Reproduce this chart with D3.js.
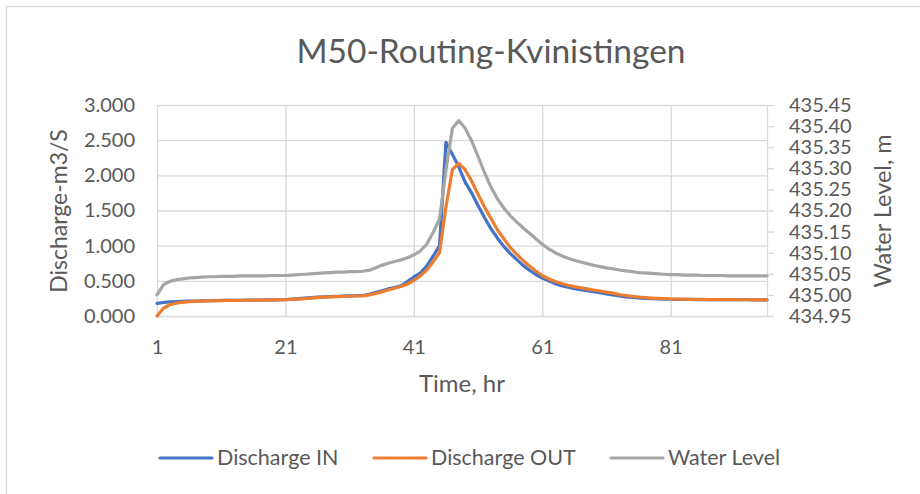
<!DOCTYPE html>
<head>
  <meta charset="utf-8">
  <script src="https://d3js.org/d3.v7.min.js"></script>
  <style>
    body { margin: 0; background: #fff; font-family: Lato, "Open Sans", sans-serif; }
    svg text { fill: #595959; }
    .grid line { stroke: #d9d9d9; stroke-width: 1.3px; }
    .grid .domain { display: none; }
    .axis2 line, .axis2 .domain { stroke: #d9d9d9; stroke-width: 1.3px; }
  </style>
</head>
<body>
  <div id="chart"></div>
  <script>
    // categories (hours)
    var hours = d3.range(1, 97);

    var dischargeIn = [
      0.180, 0.192, 0.200, 0.205, 0.208, 0.211, 0.213, 0.215, 0.217, 0.219,
      0.221, 0.222, 0.223, 0.224, 0.225, 0.226, 0.227, 0.228, 0.229, 0.231,
      0.234, 0.240, 0.247, 0.254, 0.261, 0.267, 0.272, 0.276, 0.279, 0.282,
      0.285, 0.288, 0.292, 0.310, 0.335, 0.360, 0.385, 0.405, 0.430, 0.490,
      0.555, 0.610, 0.710, 0.850, 1.000, 2.470, 2.300, 2.120, 1.900, 1.750,
      1.570, 1.400, 1.240, 1.110, 0.990, 0.890, 0.805, 0.720, 0.650, 0.590,
      0.540, 0.500, 0.460, 0.430, 0.410, 0.390, 0.375, 0.360, 0.345, 0.330,
      0.315, 0.300, 0.285, 0.273, 0.263, 0.256, 0.250, 0.246, 0.243, 0.240,
      0.238, 0.237, 0.236, 0.235, 0.234, 0.234, 0.233, 0.233, 0.232, 0.232,
      0.231, 0.231, 0.231, 0.230, 0.230, 0.230
    ];

    var dischargeOut = [
      0.000, 0.110, 0.160, 0.183, 0.195, 0.203, 0.208, 0.212, 0.215, 0.217,
      0.219, 0.221, 0.222, 0.223, 0.224, 0.225, 0.226, 0.227, 0.228, 0.229,
      0.231, 0.235, 0.241, 0.248, 0.255, 0.261, 0.267, 0.271, 0.275, 0.278,
      0.281, 0.284, 0.287, 0.298, 0.318, 0.343, 0.370, 0.395, 0.420, 0.455,
      0.505, 0.570, 0.650, 0.770, 0.900, 1.550, 2.080, 2.170, 2.080, 1.920,
      1.730, 1.550, 1.390, 1.230, 1.100, 0.975, 0.880, 0.790, 0.710, 0.640,
      0.575, 0.530, 0.490, 0.462, 0.438, 0.417, 0.400, 0.385, 0.370, 0.355,
      0.340, 0.325, 0.305, 0.292, 0.280, 0.270, 0.262, 0.255, 0.250, 0.246,
      0.242, 0.240, 0.238, 0.237, 0.236, 0.235, 0.234, 0.233, 0.233, 0.232,
      0.232, 0.231, 0.231, 0.230, 0.230, 0.230
    ];

    var waterLevel = [
      435.000, 435.024, 435.032, 435.036, 435.038, 435.040, 435.041, 435.042, 435.043, 435.043,
      435.044, 435.044, 435.044, 435.045, 435.045, 435.045, 435.045, 435.045, 435.046, 435.046,
      435.046, 435.047, 435.048, 435.049, 435.050, 435.051, 435.052, 435.053, 435.054, 435.054,
      435.055, 435.055, 435.056, 435.058, 435.064, 435.070, 435.075, 435.079, 435.083, 435.088,
      435.095, 435.104, 435.120, 435.148, 435.180, 435.295, 435.395, 435.413, 435.395, 435.365,
      435.328, 435.290, 435.256, 435.228, 435.206, 435.188, 435.173, 435.159, 435.146, 435.133,
      435.120, 435.109, 435.100, 435.093, 435.087, 435.082, 435.078, 435.074, 435.070, 435.067,
      435.064, 435.062, 435.059, 435.057, 435.055, 435.053, 435.052, 435.051, 435.050, 435.049,
      435.048, 435.048, 435.047, 435.047, 435.047, 435.046, 435.046, 435.046, 435.046, 435.045,
      435.045, 435.045, 435.045, 435.045, 435.045, 435.045
    ];

    var xTicks = [1, 21, 41, 61, 81];
    var yTicks = [0, 0.5, 1, 1.5, 2, 2.5, 3];
    var y2Ticks = [434.95, 435.00, 435.05, 435.10, 435.15, 435.20, 435.25, 435.30, 435.35, 435.40, 435.45];

    var seriesNames = ["Discharge IN", "Discharge OUT", "Water Level"];
    var colors = ["#4472c4", "#ed7d31", "#a5a5a5"];

    var width = 920, height = 494;
    var plot = { left: 157, right: 767, top: 105, bottom: 316 };

    var svg = d3.select("#chart").append("svg")
      .attr("width", width)
      .attr("height", height);

    // chart border
    svg.append("rect")
      .attr("x", 6.5).attr("y", 6.5)
      .attr("width", 940).attr("height", 520)
      .attr("fill", "#fff")
      .attr("stroke", "#d9d9d9")
      .attr("stroke-width", 1.3);

    var x = d3.scaleLinear().domain([1, 96]).range([plot.left, plot.right]);
    var y = d3.scaleLinear().domain([0, 3]).range([plot.bottom, plot.top]);
    var y2 = d3.scaleLinear().domain([434.95, 435.45]).range([plot.bottom, plot.top]);

    ////////// gridlines //////////
    svg.append("g")
      .attr("class", "grid")
      .attr("transform", "translate(" + plot.left + ",0)")
      .call(d3.axisLeft(y).tickValues(yTicks).tickSize(-(plot.right - plot.left)).tickFormat(""));

    svg.append("g")
      .attr("class", "grid")
      .attr("transform", "translate(0," + plot.bottom + ")")
      .call(d3.axisBottom(x).tickValues(xTicks).tickSize(-(plot.bottom - plot.top)).tickFormat(""));

    ////////// axes labels //////////
    var yAxis = svg.append("g")
      .attr("transform", "translate(" + plot.left + ",0)")
      .call(d3.axisLeft(y).tickValues(yTicks).tickSize(0).tickPadding(22).tickFormat(d3.format(".3f")));
    yAxis.select(".domain").remove();
    yAxis.selectAll("text").style("font-size", "20px").style("font-family", "Lato");

    var xAxis = svg.append("g")
      .attr("transform", "translate(0," + plot.bottom + ")")
      .call(d3.axisBottom(x).tickValues(xTicks).tickSize(0).tickPadding(24));
    xAxis.select(".domain").remove();
    xAxis.selectAll("text").style("font-size", "20px").style("font-family", "Lato");

    var y2Axis = svg.append("g")
      .attr("class", "axis2")
      .attr("transform", "translate(" + plot.right + ",0)")
      .call(d3.axisRight(y2).tickValues(y2Ticks).tickSize(7).tickSizeOuter(0).tickPadding(15).tickFormat(d3.format(".2f")));
    y2Axis.selectAll("text").style("font-size", "20px").style("font-family", "Lato");

    ////////// series //////////
    var line = d3.line()
      .x(function (d, i) { return x(hours[i]); })
      .y(function (d) { return y(d); });

    var line2 = d3.line()
      .x(function (d, i) { return x(hours[i]); })
      .y(function (d) { return y2(d); });

    svg.append("path").datum(dischargeIn)
      .attr("d", line).attr("fill", "none")
      .attr("stroke", colors[0]).attr("stroke-width", 3.2)
      .attr("stroke-linejoin", "round").attr("stroke-linecap", "round");

    svg.append("path").datum(dischargeOut)
      .attr("d", line).attr("fill", "none")
      .attr("stroke", colors[1]).attr("stroke-width", 3.2)
      .attr("stroke-linejoin", "round").attr("stroke-linecap", "round");

    svg.append("path").datum(waterLevel)
      .attr("d", line2).attr("fill", "none")
      .attr("stroke", colors[2]).attr("stroke-width", 3.2)
      .attr("stroke-linejoin", "round").attr("stroke-linecap", "round");

    ////////// titles //////////
    svg.append("text")
      .attr("x", 491).attr("y", 63)
      .attr("text-anchor", "middle")
      .style("font-size", "33.5px")
      .text("M50-Routing-Kvinistingen");

    svg.append("text")
      .attr("transform", "translate(67,211) rotate(-90)")
      .attr("text-anchor", "middle")
      .style("font-size", "23px")
      .text("Discharge-m3/S");

    svg.append("text")
      .attr("transform", "translate(891,211) rotate(-90)")
      .attr("text-anchor", "middle")
      .style("font-size", "23.5px")
      .text("Water Level, m");

    svg.append("text")
      .attr("x", 462).attr("y", 392)
      .attr("text-anchor", "middle")
      .style("font-size", "24px")
      .text("Time, hr");

    ////////// legend //////////
    var legendX = [160, 374, 611];
    var legend = svg.selectAll(".legend")
      .data(seriesNames)
      .enter().append("g")
      .attr("class", "legend")
      .attr("transform", function (d, i) { return "translate(" + legendX[i] + ",458)"; });

    legend.append("line")
      .attr("x1", 0).attr("x2", 52)
      .attr("stroke", function (d, i) { return colors[i]; })
      .attr("stroke-width", 3.2)
      .attr("stroke-linecap", "round");

    legend.append("text")
      .attr("x", 57).attr("y", 7)
      .style("font-size", "21.5px")
      .text(function (d) { return d; });
  </script>
</body>
